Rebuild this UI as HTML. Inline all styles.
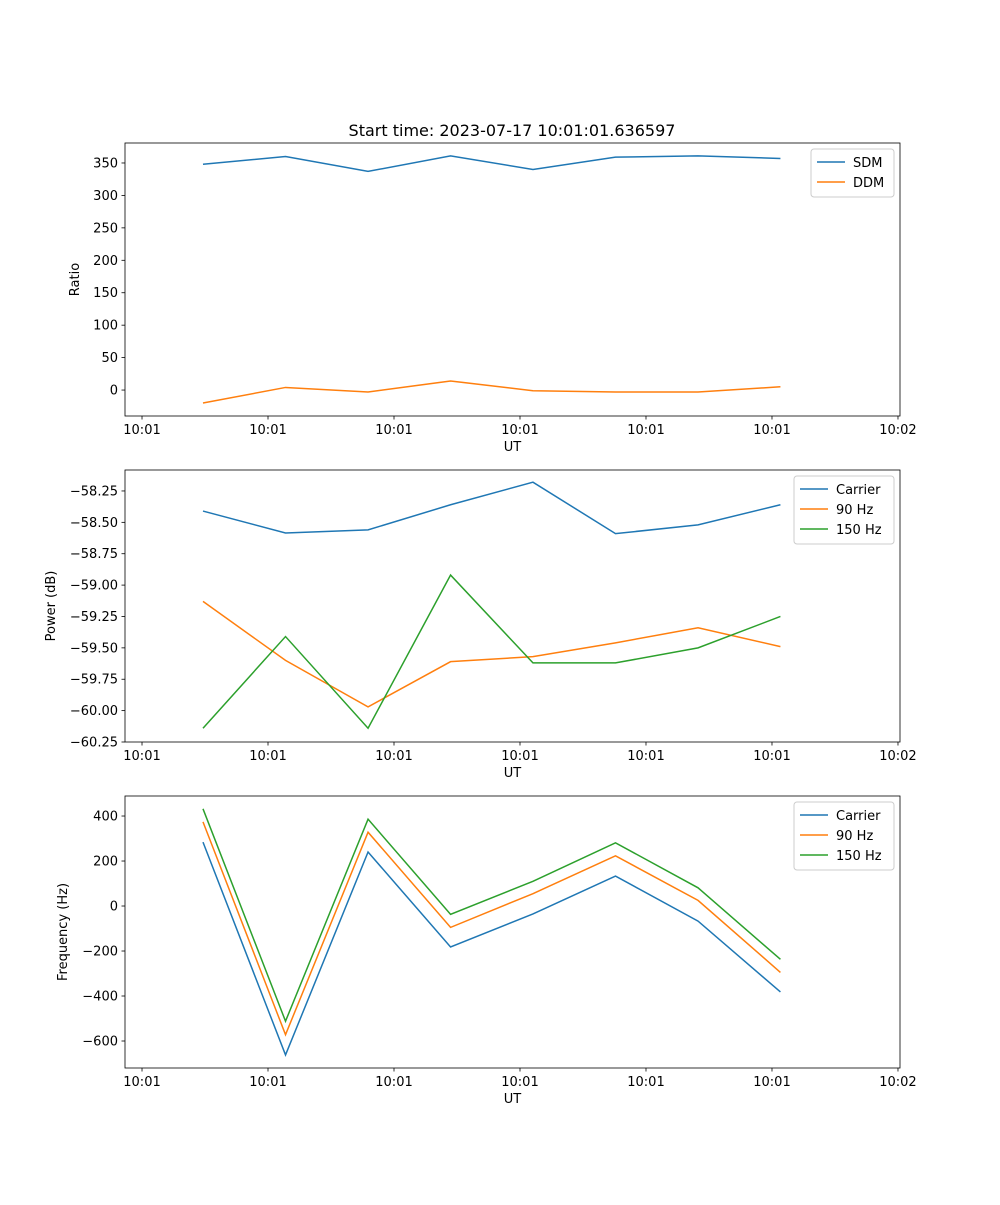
<!DOCTYPE html>
<html><head><meta charset="utf-8"><style>
body{margin:0;background:#fff}
svg{font-family:"DejaVu Sans","Liberation Sans",sans-serif}
</style></head><body>
<svg id="fig" width="1000" height="1200" xmlns="http://www.w3.org/2000/svg">
<text x="512" y="136" font-size="16" text-anchor="middle">Start time: 2023-07-17 10:01:01.636597</text>
</svg>
<script>
const times=[0.484,1.139,1.794,2.449,3.103,3.758,4.413,5.067];
const xTicks=[0,1,2,3,4,5,6];
const xTickLabels=["10:01","10:01","10:01","10:01","10:01","10:01","10:02"];
const sdm=[348,360,337,361,340,359,361,357];
const ddm=[-20,4,-3,14,-1,-3,-3,5];
const pCarrier=[-58.41,-58.585,-58.56,-58.36,-58.18,-58.59,-58.52,-58.36];
const p90=[-59.13,-59.60,-59.97,-59.61,-59.57,-59.46,-59.34,-59.49];
const p150=[-60.14,-59.41,-60.14,-58.92,-59.62,-59.62,-59.50,-59.25];
const fCarrier=[284,-662,240,-182,-35,133,-67,-382];
const f90=[374,-572,328,-95,55,223,25,-295];
const f150=[432,-512,386,-37,110,281,81,-237];
const ticks1=[0,50,100,150,200,250,300,350];
const ticks2=[-60.25,-60,-59.75,-59.5,-59.25,-59,-58.75,-58.5,-58.25];
const ticks3=[-600,-400,-200,0,200,400];

const NS="http://www.w3.org/2000/svg";
const svg=document.getElementById('fig');
function mk(tag,attrs,parent){const e=document.createElementNS(NS,tag);for(const k in attrs)e.setAttribute(k,attrs[k]);(parent||svg).appendChild(e);return e;}
const L=125,R=900,XMIN=-0.135,XMAX=6.016;
const xs=v=>L+(v-XMIN)/(XMAX-XMIN)*(R-L);
const C=['#1f77b4','#ff7f0e','#2ca02c'];

function panel(name,top,bot,ymin,ymax,yticks,fmt,ylabel,series,labels,legW){
  const g=mk('g',{});
  
  
  const ys=v=>bot-(v-ymin)/(ymax-ymin)*(bot-top);
  series.forEach((s,si)=>{
    const pts=s.map((v,i)=>xs(times[i]).toFixed(2)+','+ys(v).toFixed(2)).join(' ');
    const pl=mk('polyline',{points:pts,fill:'none',stroke:C[si],'stroke-width':1.5},g);
    
    
  });
  const fr=mk('rect',{x:L,y:top,width:R-L,height:bot-top,fill:'none',stroke:'#000','stroke-width':0.8},g);
  
  
  xTicks.forEach((t,i)=>{
    const x=xs(t);
    mk('line',{x1:x,x2:x,y1:bot,y2:bot+3.5,stroke:'#000','stroke-width':0.8},g);
    const tx=mk('text',{x:x,y:bot+18,'font-size':13,'text-anchor':'middle'},g);
    tx.textContent=xTickLabels[i];
    
    
  });
  yticks.forEach(t=>{
    const y=ys(t);
    mk('line',{x1:L-3.5,x2:L,y1:y,y2:y,stroke:'#000','stroke-width':0.8},g);
    const tx=mk('text',{x:L-7,y:y+4.5,'font-size':13,'text-anchor':'end'},g);
    tx.textContent=fmt(t);
    
    
  });
  const xl=mk('text',{x:(L+R)/2,y:bot+35,'font-size':13,'text-anchor':'middle'},g);
  xl.textContent='UT';
  
  
  const yl=mk('text',{x:0,y:0,'font-size':13,'text-anchor':'middle',transform:`translate(${ylabel[1]},${(top+bot)/2}) rotate(-90)`},g);
  yl.textContent=ylabel[0];
  
  
  const lg=mk('g',{},g);
  
  
  const lx=R-6-legW, ly=top+6, h=labels.length*20+8;
  mk('rect',{x:lx,y:ly,width:legW,height:h,rx:3,fill:'#fff',stroke:'#ccc','stroke-width':1},lg);
  labels.forEach((lab,i)=>{
    const yy=ly+13+i*20;
    mk('line',{x1:lx+6,x2:lx+34,y1:yy,y2:yy,stroke:C[i],'stroke-width':1.5},lg);
    const t=mk('text',{x:lx+42,y:yy+5,'font-size':13},lg);
    t.textContent=lab;
    
    
  });
}
panel('panel-ratio',143,416,-40,380.8,ticks1,v=>String(v),['Ratio',79],[sdm,ddm],['SDM','DDM'],83);
panel('panel-power',470,742,-60.25,-58.083,ticks2,v=>'\u2212'+Math.abs(v).toFixed(2),['Power (dB)',55],[pCarrier,p90,p150],['Carrier','90 Hz','150 Hz'],100);
panel('panel-frequency',796,1068,-720,489,ticks3,v=>(v<0?'\u2212':'')+Math.abs(v),['Frequency (Hz)',67],[fCarrier,f90,f150],['Carrier','90 Hz','150 Hz'],100);
</script>
</body></html>
